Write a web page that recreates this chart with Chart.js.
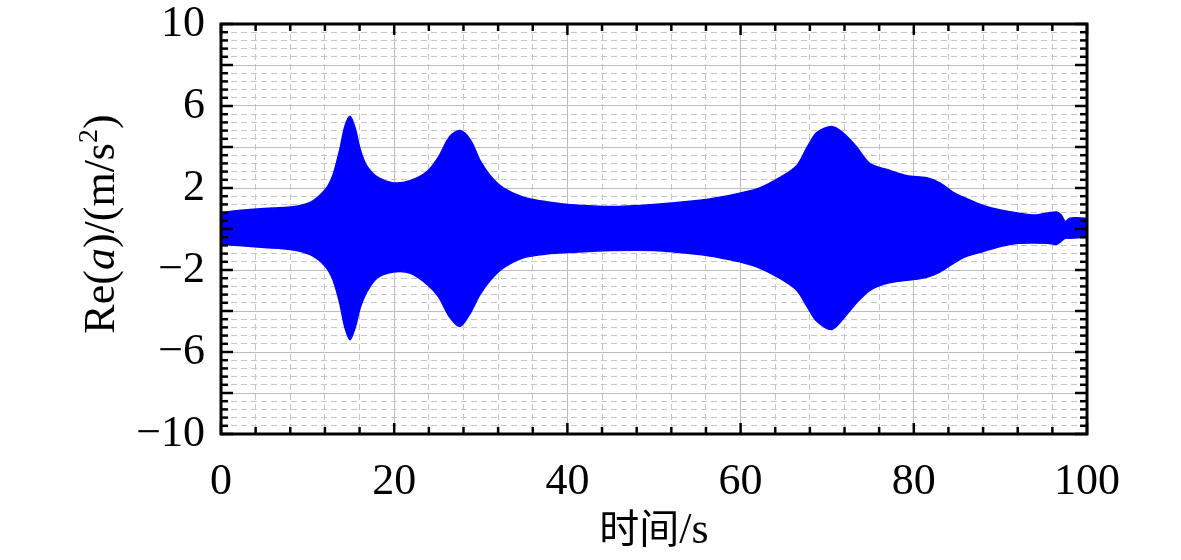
<!DOCTYPE html>
<html>
<head>
<meta charset="utf-8">
<script src="https://cdn.jsdelivr.net/npm/chart.js@4/dist/chart.umd.min.js"></script>
<style>
  html, body { margin: 0; padding: 0; background: #fff; }
  #wrap { width: 1181px; height: 560px; }
</style>
</head>
<body>
<div id="wrap"><canvas id="myChart"></canvas></div>
<script>
// envelope of the acceleration signal
const timeS = [0, 2, 5, 8, 10.3, 12, 12.9, 13.7, 14.3, 14.9, 15.5, 16.1, 16.8, 18, 19.9, 21.8, 23.8, 25.1, 26.4, 27.6,
  28.8, 29.9, 31.1, 32.6, 34.9, 38, 40, 45, 50, 55.3, 57.6, 59.9, 62.2, 64.5, 66.5, 67.7, 68.8, 70.5, 71.8, 73.4,
  74.9, 76.9, 79.2, 81.5, 83, 84.5, 86, 88, 90, 92, 94, 95.5, 96.5, 97, 97.5, 98, 100];
const upperEnv = [0.8, 0.9, 1.0, 1.07, 1.3, 1.9, 2.6, 3.85, 5.0, 5.5, 4.9, 3.85, 3.1, 2.55, 2.25, 2.35, 2.8, 3.5, 4.5, 4.8,
  4.35, 3.35, 2.6, 2.0, 1.55, 1.3, 1.2, 1.1, 1.2, 1.4, 1.55, 1.75, 2.0, 2.5, 3.1, 4.0, 4.7, 5.0, 4.7, 4.0,
  3.2, 2.9, 2.6, 2.5, 2.25, 1.8, 1.5, 1.15, 0.93, 0.78, 0.68, 0.78, 0.83, 0.7, 0.35, 0.53, 0.53];
const lowerEnv = [-0.75, -0.8, -0.9, -1.0, -1.25, -1.8, -2.45, -3.6, -4.8, -5.4, -4.8, -3.8, -3.1, -2.4, -2.1, -2.15, -2.7, -3.3, -4.3, -4.75,
  -4.1, -3.2, -2.5, -1.9, -1.4, -1.2, -1.15, -1.05, -1.05, -1.25, -1.4, -1.6, -1.9, -2.4, -3.0, -3.8, -4.5, -4.9, -4.4, -3.6,
  -3.0, -2.65, -2.5, -2.35, -2.1, -1.7, -1.35, -1.1, -0.85, -0.7, -0.68, -0.7, -0.75, -0.6, -0.45, -0.45, -0.4];
const xTickLabels = [0, 20, 40, 60, 80, 100];
const yTickLabels = [10, 6, 2, -2, -6, -10];

const blue = 'rgb(0, 0, 255)';
const serif = "'Liberation Serif', 'Times New Roman', serif";

const isLabel = (v, list) => {
  const r = Math.round(v);
  return Math.abs(v - r) < 1e-6 && list.includes(r);
};

// frame, inward ticks and axis titles
const frameTicks = {
  id: 'frameTicks',
  afterDraw(chart) {
    const { ctx, chartArea: a, scales } = chart;
    const line = (x1, y1, x2, y2) => { ctx.beginPath(); ctx.moveTo(x1, y1); ctx.lineTo(x2, y2); ctx.stroke(); };
    ctx.save();
    ctx.strokeStyle = '#000';
    ctx.lineWidth = 2.5;
    for (let v = 0; v <= 100; v += 4) {
      const px = scales.x.getPixelForValue(v);
      const len = v % 20 === 0 ? 11 : 7;
      line(px, a.bottom, px, a.bottom - len);
      line(px, a.top, px, a.top + len);
    }
    for (let k = 0; k <= 50; k++) {
      const py = scales.y.getPixelForValue(-10 + k * 0.4);
      const len = k % 5 === 0 ? 12 : 7;
      line(a.left, py, a.left + len, py);
      line(a.right, py, a.right - len, py);
    }
    ctx.lineWidth = 3;
    ctx.strokeRect(a.left, a.top, a.right - a.left, a.bottom - a.top);

    // y title: Re(a)/(m/s^2)
    ctx.fillStyle = '#000';
    ctx.textBaseline = 'alphabetic';
    const parts = [
      { t: 'Re(', f: '44px ' + serif, dy: 0 },
      { t: 'a', f: 'italic 44px ' + serif, dy: 0 },
      { t: ')/(m/s', f: '44px ' + serif, dy: 0 },
      { t: '2', f: '28px ' + serif, dy: -17 },
      { t: ')', f: '44px ' + serif, dy: 0 }
    ];
    let total = 0;
    parts.forEach(p => { ctx.font = p.f; p.w = ctx.measureText(p.t).width; total += p.w; });
    ctx.save();
    ctx.translate(114, (a.top + a.bottom) / 2 - 5);
    ctx.rotate(-Math.PI / 2);
    let x = -total / 2;
    parts.forEach(p => { ctx.font = p.f; ctx.fillText(p.t, x, p.dy); x += p.w; });
    ctx.restore();

    // x title: 时间/s
    const xParts = [
      { t: '时间', f: "40px 'Noto Sans CJK SC', sans-serif" },
      { t: '/s', f: '44px ' + serif }
    ];
    total = 0;
    xParts.forEach(p => { ctx.font = p.f; p.w = ctx.measureText(p.t).width; total += p.w; });
    x = (a.left + a.right) / 2 - total / 2;
    xParts.forEach(p => { ctx.font = p.f; ctx.fillText(p.t, x, 543); x += p.w; });
    ctx.restore();
  }
};

const ctx = document.getElementById('myChart').getContext('2d');
const myChart = new Chart(ctx, {
  type: 'line',
  data: {
    datasets: [
      {
        label: 'upper',
        data: timeS.map((t, i) => ({ x: t, y: upperEnv[i] })),
        borderColor: blue,
        backgroundColor: blue,
        borderWidth: 1.5,
        pointRadius: 0,
        tension: 0.3,
        fill: '+1'
      },
      {
        label: 'lower',
        data: timeS.map((t, i) => ({ x: t, y: lowerEnv[i] })),
        borderColor: blue,
        backgroundColor: blue,
        borderWidth: 1.5,
        pointRadius: 0,
        tension: 0.3,
        fill: false
      }
    ]
  },
  options: {
    responsive: true,
    maintainAspectRatio: false,
    animation: false,
    devicePixelRatio: 1,
    layout: { padding: { left: 0, right: 94, top: 24, bottom: 0 } },
    plugins: {
      legend: { display: false },
      tooltip: { enabled: false }
    },
    scales: {
      x: {
        type: 'linear',
        position: 'bottom',
        min: 0,
        max: 100,
        ticks: {
          stepSize: 4,
          autoSkip: false,
          maxRotation: 0,
          padding: 22,
          color: '#000',
          font: { family: serif, size: 44 },
          callback: v => isLabel(v, xTickLabels) ? String(Math.round(v)) : ''
        },
        grid: { color: '#c6c6c6', lineWidth: 1, drawTicks: false },
        border: { display: false, dash: [6, 4] },
        afterFit: s => { s.height = 126; s.paddingLeft = 0; s.paddingRight = 0; }
      },
      xMajor: {
        type: 'linear',
        position: 'bottom',
        min: 0,
        max: 100,
        ticks: { stepSize: 20, display: false },
        grid: { color: '#bdbdbd', lineWidth: 1, drawTicks: false },
        border: { display: false },
        afterFit: s => { s.height = 0; }
      },
      y: {
        type: 'linear',
        position: 'left',
        min: -10,
        max: 10,
        ticks: {
          stepSize: 0.4,
          autoSkip: false,
          padding: 16,
          color: '#000',
          font: { family: serif, size: 44 },
          callback: v => {
            if (!isLabel(v, yTickLabels)) return '';
            const r = Math.round(v);
            return r < 0 ? '\u2212' + Math.abs(r) : String(r);
          }
        },
        grid: { color: '#c6c6c6', lineWidth: 1, drawTicks: false },
        border: { display: false, dash: [6, 4] },
        afterFit: s => { s.width = 221; s.paddingTop = 0; s.paddingBottom = 0; }
      },
      yMajor: {
        type: 'linear',
        position: 'left',
        min: -10,
        max: 10,
        ticks: { stepSize: 2, display: false },
        grid: { color: '#bdbdbd', lineWidth: 1, drawTicks: false },
        border: { display: false },
        afterFit: s => { s.width = 0; }
      }
    }
  },
  plugins: [frameTicks]
});
</script>
</body>
</html>
